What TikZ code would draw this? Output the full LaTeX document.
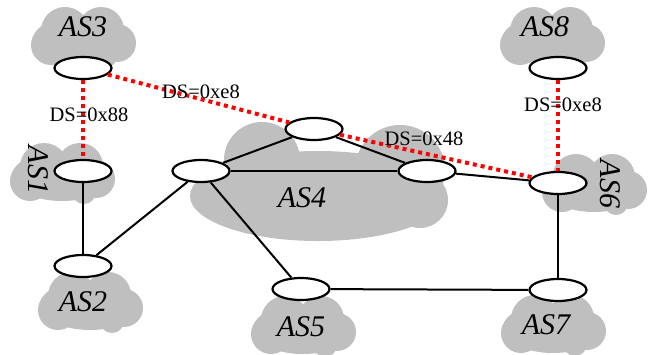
\documentclass[tikz,border=0pt]{standalone}
\usepackage{fontspec}
\setmainfont{Liberation Serif}
\usetikzlibrary{shapes.geometric}
\colorlet{cloudgray}{black!25}
\tikzset{
  router/.style={ellipse, draw, fill=white, line width=2.2pt, inner sep=0pt,
    minimum width=57pt, minimum height=22pt},
  link/.style={line width=2pt},
  dslink/.style={red, line width=4pt, dash pattern=on 4pt off 4pt},
  aslabel/.style={font=\fontsize{30}{30}\selectfont\itshape, inner sep=0pt},
  dslabel/.style={font=\fontsize{20.5}{20.5}\selectfont, inner sep=0pt},
}
\begin{document}
\begin{tikzpicture}[x=1pt, y=-1pt]
   \newcommand{\asCloud}[1]{
        \begin{scope}[shift={#1}, fill=cloudgray]
          \fill (0,3) ellipse (50 and 25);
          \fill (-18,-6) circle (24);
          \fill (18,-7) circle (23);
          \fill (34,6) circle (19);
          \fill (-32,8) circle (20);
          \fill (22,19) circle (12);
        \end{scope}
    }
  \useasboundingbox (0,0) rectangle (652,354);

  % clouds
  \asCloud{(83,37)}
  \asCloud{(552,37)}
  \asCloud{(62,173)}
  \asCloud{(594,184)}
  \asCloud{(90,302)}
  \asCloud{(303,326)}
  \asCloud{(553,325)}
  \begin{scope}[fill=cloudgray]
    \fill (318,196) ellipse (128 and 45);
    \fill (262,160) circle (38);
    \fill (400,170) circle (45);
    \fill (420,200) circle (28);
  \end{scope}

  \node[aslabel] (as3) at (83,27) {AS3};
  \node[aslabel] (as8) at (545,27) {AS8};
  \node[aslabel, rotate=-90] (as1) at (38,170) {AS1};
  \node[aslabel, rotate=-90] (as6) at (610,184) {AS6};
  \node[aslabel] (as4) at (302,198) {AS4};
  \node[aslabel] (as2) at (83,302) {AS2};
  \node[aslabel] (as5) at (301,327) {AS5};
  \node[aslabel] (as7) at (546,325) {AS7};

  % routers
  \node[router] (r3) at (83,68) {};
  \node[router] (r1) at (83,171) {};
  \node[router] (r2) at (83,266) {};
  \node[router] (r4w) at (201,171) {};
  \node[router] (r4n) at (314,129) {};
  \node[router] (r4e) at (427,171) {};
  \node[router] (r6) at (558,183) {};
  \node[router] (r8) at (558,68) {};
  \node[router] (r5) at (301,289) {};
  \node[router] (r7) at (558,290) {};

  \draw[link] (r1) -- (r2);
  \draw[link] (r2) -- (r4w);
  \draw[link] (r4w) -- (r4n);
  \draw[link] (r4w) -- (r4e);
  \draw[link] (r4n) -- (r4e);
  \draw[link] (r4e) -- (r6);
  \draw[link] (r4w) -- (r5);
  \draw[link] (r5) -- (r7);
  \draw[link] (r6) -- (r7);

  \draw[dslink] (r3) -- (r1);
  \draw[dslink] (r3) -- (r4n);
  \draw[dslink] (r4n) -- (r6);
  \draw[dslink] (r8) -- (r6);

  \node[dslabel] (ds31) at (89,115) {DS=0x88};
  \node[dslabel] (ds34) at (201,92) {DS=0xe8};
  \node[dslabel] (ds46) at (424,139) {DS=0x48};
  \node[dslabel] (ds86) at (563,105) {DS=0xe8};
\end{tikzpicture}
\end{document}
